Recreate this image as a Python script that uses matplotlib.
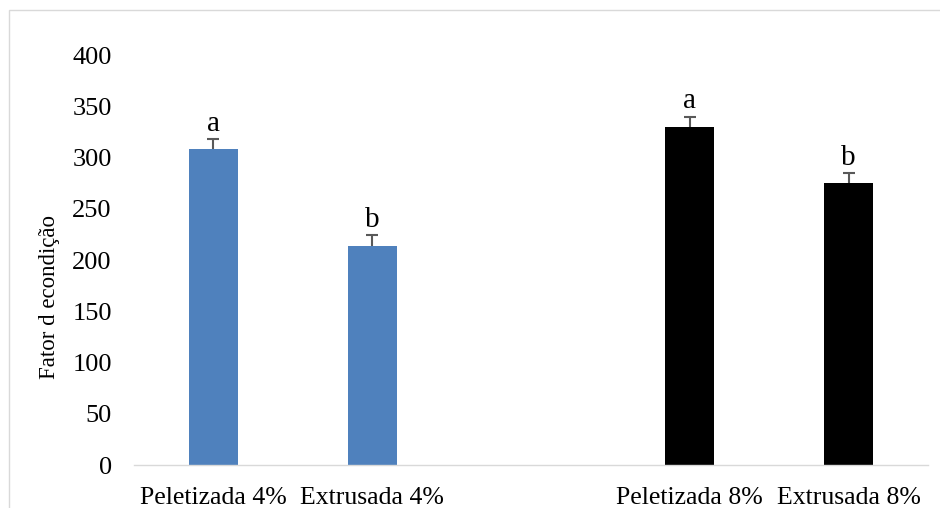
import matplotlib
matplotlib.use("Agg")
import matplotlib.pyplot as plt
from matplotlib.patches import Rectangle

categories = ["Peletizada 4%", "Extrusada 4%", "", "Peletizada 8%", "Extrusada 8%"]
values = [308, 214, None, 330, 275]
errors = [10, 10, None, 10, 10]
colors = ["#4F81BD", "#4F81BD", None, "#000000", "#000000"]
letters = ["a", "b", None, "a", "b"]
yticks = [0, 50, 100, 150, 200, 250, 300, 350, 400]

plt.rcParams['font.family'] = ['Liberation Serif', 'DejaVu Serif']

fig = plt.figure(figsize=(9.4, 5.08), dpi=100)
ax = fig.add_axes([134/940, 1-465/508, (928-134)/940, (465-55)/508])

for i, (v, e, c, l) in enumerate(zip(values, errors, colors, letters)):
    if v is None:
        continue
    ax.bar(i, v, width=0.31, color=c, zorder=2)
    ax.vlines(i, v, v + e, color='#595959', linewidth=1.5, zorder=3)
    ax.hlines(v + e, i - 0.038, i + 0.038, color='#595959', linewidth=1.5, zorder=3)
    ax.text(i, v + e + 2, l, ha='center', va='bottom', fontsize=21)

ax.set_xlim(-0.5, len(categories) - 0.5)
ax.set_ylim(0, 400)
ax.set_yticks(yticks)
ax.set_yticklabels([str(t) for t in yticks], fontsize=19)
ax.set_xticks(range(len(categories)))
ax.set_xticklabels(categories, fontsize=18.5)
ax.tick_params(axis='both', length=0)
ax.tick_params(axis='y', pad=16)
ax.tick_params(axis='x', pad=16)
for s in ['top', 'right', 'left']:
    ax.spines[s].set_visible(False)
ax.spines['bottom'].set_color('#d9d9d9')
ax.spines['bottom'].set_linewidth(1)
ax.set_ylabel("Fator d econdição", fontsize=16.5)
ax.yaxis.set_label_coords((60 - 134) / 794, (465 - 297) / 410)

fig.patches.append(Rectangle((9/940, -0.1), 1.2, 1 - 10/508 + 0.1, transform=fig.transFigure,
                             fill=False, edgecolor='#d9d9d9', linewidth=1))

fig.savefig("out.png", dpi=100)
